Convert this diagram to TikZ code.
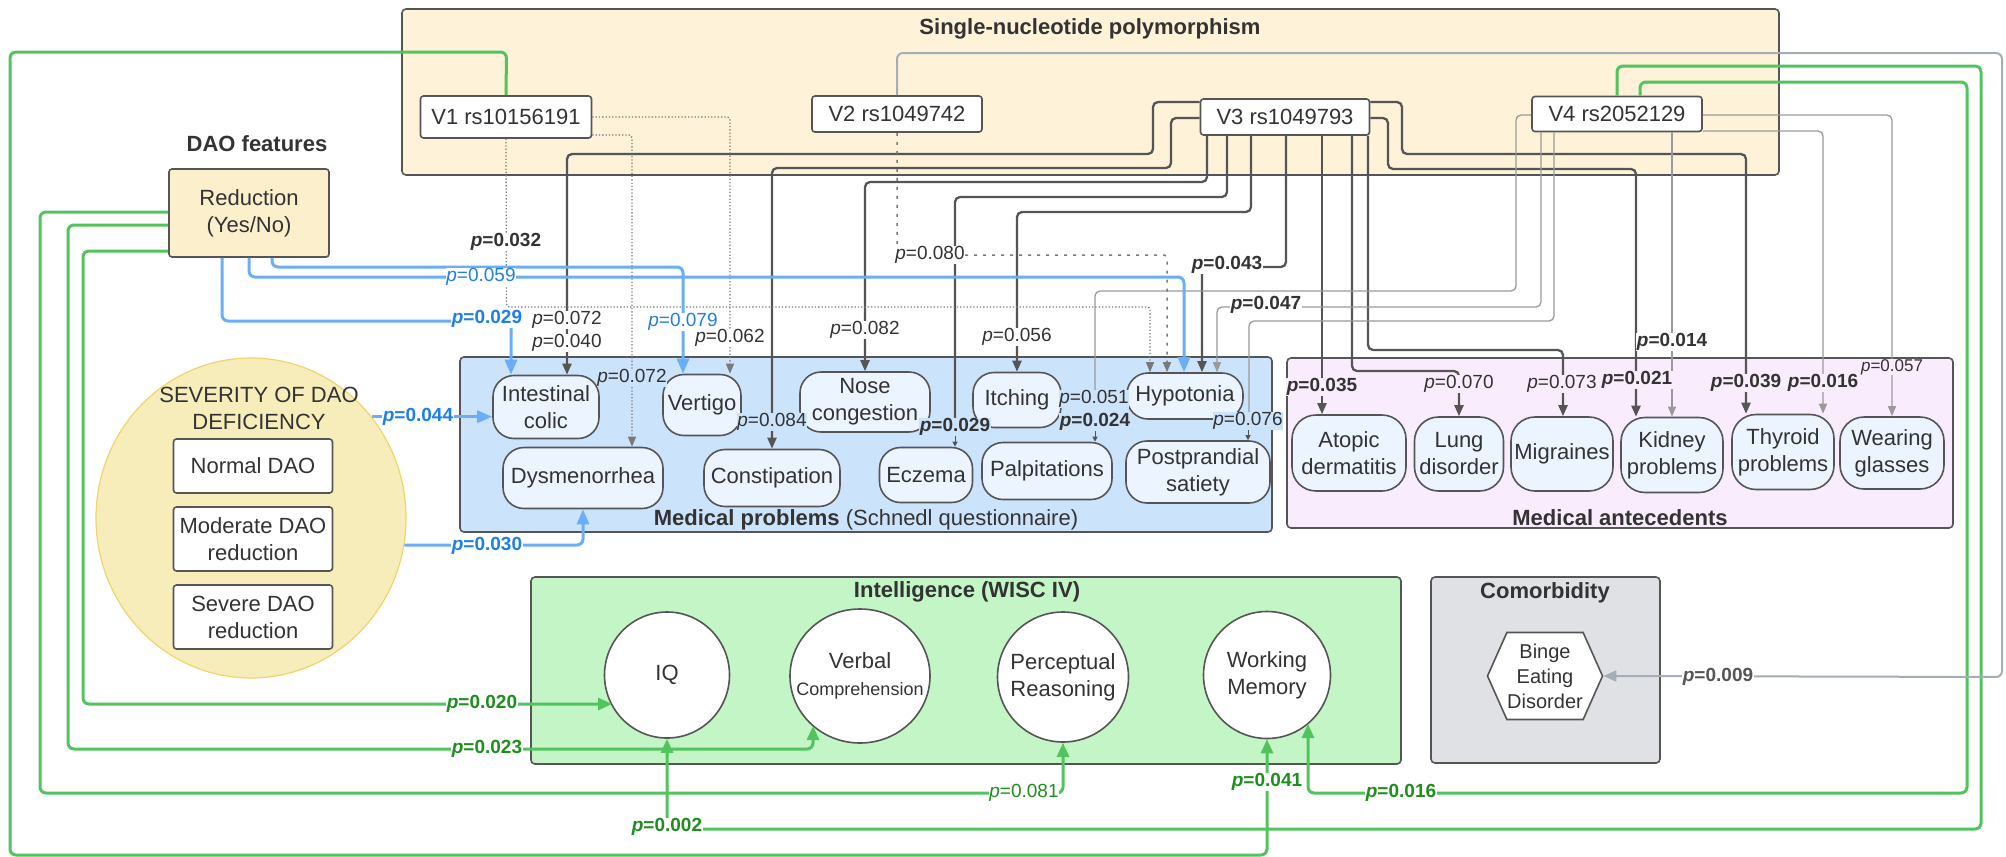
\documentclass[tikz,border=0pt]{standalone}
\usepackage{fontspec}
\setmainfont{Liberation Sans}
\usetikzlibrary{arrows.meta,shapes.geometric,shapes.symbols,calc}
\definecolor{dk}{HTML}{555555}
\definecolor{txt}{HTML}{333333}
\definecolor{tg}{HTML}{9A9A9A}
\definecolor{dt}{HTML}{7A7A7A}
\definecolor{bl}{HTML}{6AAEF7}
\definecolor{bltxt}{HTML}{1F7FE6}
\definecolor{gr}{HTML}{52C45E}
\definecolor{grtxt}{HTML}{1E8E1E}
\definecolor{gb}{HTML}{A5ADB8}
\definecolor{snpfill}{HTML}{FEF2D8}
\definecolor{redfill}{HTML}{FCEFCC}
\definecolor{medbox}{HTML}{CCE3FC}
\definecolor{mednode}{HTML}{EBF4FF}
\definecolor{antbox}{HTML}{F9ECFD}
\definecolor{intbox}{HTML}{C3F5C6}
\definecolor{combox}{HTML}{DFE1E5}
\definecolor{sevfill}{HTML}{F6EDBA}
\definecolor{sevdraw}{HTML}{F0D46C}
\newcommand\pv[1]{\textit{p}=#1}
\newcommand\pbv[1]{\textbf{\textit{p}=#1}}
\tikzset{
  container/.style={draw=dk, line width=1.6pt, rounded corners=4pt},
  ttl/.style={font=\fontsize{22}{26}\selectfont\bfseries, text=txt},
  snp/.style={draw=dk, line width=1.6pt, fill=white, rounded corners=3pt, font=\fontsize{22}{26}\selectfont, text=txt, inner sep=0pt},
  med/.style={draw=dk, line width=1.6pt, fill=mednode, rounded corners=21pt, font=\fontsize{22}{27}\selectfont, text=txt, align=center, inner sep=0pt},
  ant/.style={med, rounded corners=24pt},
  dbox/.style={draw=dk, line width=1.6pt, fill=white, rounded corners=3pt, font=\fontsize{22}{27}\selectfont, text=txt, align=center, inner sep=0pt, minimum width=159pt},
  wisc/.style={ellipse, draw=dk, line width=1.6pt, fill=white, inner sep=0pt},
  wtxt/.style={font=\fontsize{22}{27}\selectfont, text=txt, align=center},
  lab/.style={font=\fontsize{19}{21}\selectfont, text=txt, fill=white, inner sep=0.5pt},
  blab/.style={lab, font=\fontsize{19}{21}\selectfont\bfseries},
  dkl/.style={draw=dk, line width=2.3pt, rounded corners=5pt, -{Triangle[length=11pt,width=9pt]}},
  tgl/.style={draw=tg, line width=1.3pt, rounded corners=5pt, -{Triangle[length=10pt,width=8pt]}},
  dtl/.style={draw=dt, line width=1.3pt, dotted, rounded corners=3pt, -{Triangle[length=10pt,width=8pt]}},
  dsl/.style={draw=dt, line width=1.5pt, dash pattern=on 3pt off 6pt, rounded corners=3pt, -{Triangle[length=10pt,width=8pt]}},
  bll/.style={draw=bl, line width=3pt, rounded corners=6pt, -{Triangle[length=15pt,width=12pt]}},
  grl/.style={draw=gr, line width=3pt, rounded corners=6pt, -{Triangle[length=14pt,width=12pt]}},
  gbl/.style={draw=gb, line width=2pt, rounded corners=6pt, -{Triangle[length=13pt,width=11pt]}},
  smallarr/.style={draw=dk, line width=1pt, -{Triangle[length=5pt,width=5pt]}},
}
\begin{document}
\begin{tikzpicture}[x=1pt,y=-1pt]
\useasboundingbox (0,0) rectangle (2006,857);
\fill[white] (0,0) rectangle (2006,857);
% containers
\draw[container, fill=snpfill] (402,9) rectangle (1779,175);
\node[ttl] at (1090,29) {Single-nucleotide polymorphism};
\draw[container, fill=medbox] (460,357) rectangle (1272,532);
\draw[container, fill=antbox] (1287,358) rectangle (1953,528);
\draw[container, fill=intbox] (531,577) rectangle (1401,764);
\draw[container, fill=combox] (1431,577) rectangle (1660,763);
\node[ellipse, draw=sevdraw, fill=sevfill, line width=1.2pt, minimum width=310pt, minimum height=320pt, inner sep=0pt] (Sev) at (251,518) {};
% titles
\node[ttl] at (257,144) {DAO features};
\node[font=\fontsize{22}{26}\selectfont, text=txt] at (866,520) {\textbf{Medical problems} (Schnedl questionnaire)};
\node[ttl] at (1620,518) {Medical antecedents};
\node[ttl] at (967,592) {Intelligence (WISC IV)};
\node[ttl] at (1545,593) {Comorbidity};
% SNP nodes
\node[snp, minimum width=171pt, minimum height=42pt] (V1) at (506,117) {V1 rs10156191};
\node[snp, minimum width=170pt, minimum height=36pt] (V2) at (897,114) {V2 rs1049742};
\node[snp, minimum width=169pt, minimum height=36pt] (V3) at (1285,117) {V3 rs1049793};
\node[snp, minimum width=170pt, minimum height=35pt] (V4) at (1617,114) {V4 rs2052129};
% DAO
\node[dbox, fill=redfill, minimum width=160pt, minimum height=88pt] (Red) at (249,213) {Reduction\\(Yes/No)};
\node[font=\fontsize{22}{27}\selectfont, text=txt, align=center] at (259,408) {SEVERITY OF DAO\\DEFICIENCY};
\node[dbox, minimum height=54pt] (Nor) at (253,466) {Normal DAO};
\node[dbox, minimum height=64pt] (Mod) at (253,539) {Moderate DAO\\reduction};
\node[dbox, minimum height=64pt] (Sevr) at (253,617) {Severe DAO\\reduction};
% medical problems
\node[med, minimum width=106pt, minimum height=63pt] (IC) at (546,407) {Intestinal\\colic};
\node[med, minimum width=78pt, minimum height=61pt] (Vert) at (702,405) {Vertigo};
\node[med, minimum width=130pt, minimum height=60pt] (Nose) at (865,402) {Nose\\congestion};
\node[med, minimum width=88pt, minimum height=55pt] (Itch) at (1017,400) {Itching};
\node[med, minimum width=116pt, minimum height=46pt] (Hypo) at (1185,396) {Hypotonia};
\node[med, minimum width=160pt, minimum height=61pt] (Dys) at (583,478) {Dysmenorrhea};
\node[med, minimum width=136pt, minimum height=57pt] (Const) at (772,478) {Constipation};
\node[med, minimum width=93pt, minimum height=55pt] (Ecz) at (926,475) {Eczema};
\node[med, minimum width=130pt, minimum height=57pt] (Palp) at (1047,471) {Palpitations};
\node[med, minimum width=144pt, minimum height=62pt] (Post) at (1198,472) {Postprandial\\satiety};
% antecedents
\node[ant, minimum width=114pt, minimum height=76pt] (Atop) at (1349,453) {Atopic\\dermatitis};
\node[ant, minimum width=89pt, minimum height=74pt] (Lung) at (1459,454) {Lung\\disorder};
\node[ant, minimum width=102pt, minimum height=74pt] (Mig) at (1562,454) {Migraines};
\node[ant, minimum width=102pt, minimum height=75pt] (Kid) at (1672,455) {Kidney\\problems};
\node[ant, minimum width=102pt, minimum height=75pt] (Thy) at (1783,452) {Thyroid\\problems};
\node[ant, minimum width=104pt, minimum height=72pt] (Glass) at (1892,453) {Wearing\\glasses};
% WISC
\node[wisc, minimum width=125pt, minimum height=126pt, label={[wtxt]center:IQ}] (IQ) at (667,675) {};
\node[wisc, minimum width=140pt, minimum height=134pt, label={[wtxt]center:Verbal\\{\fontsize{18}{20}\selectfont Comprehension}}] (VC) at (860,676) {};
\node[wisc, minimum width=131pt, minimum height=130pt, label={[wtxt]center:Perceptual\\Reasoning}] (PR) at (1063,677) {};
\node[wisc, minimum width=127pt, minimum height=127pt, label={[wtxt]center:Working\\Memory}] (WM) at (1267,675) {};
% comorbidity
\node[signal, signal to=west and east, signal pointer angle=132, draw=dk, line width=1.6pt, fill=white, minimum width=115pt, minimum height=87pt, inner sep=0pt, font=\fontsize{20}{25}\selectfont, align=center, text=txt] (Binge) at (1545,676) {Binge\\Eating\\Disorder};

% ---- connectors: V3 (dark)
\draw[dkl] (V3.west |- 0,102) -- (1153,102) -- (1153,154) -- (567,154) -- (IC.north -| 567,0);
\draw[dkl] (V3.west |- 0,118) -- (1171,118) -- (1171,168) -- (772,168) -- (Const.north -| 772,0);
\draw[dkl] (V3.south -| 1207,0) -- (1207,182) -- (865,182) -- (Nose.north -| 865,0);
\draw[dkl, arrows=-] (V3.south -| 1227,0) -- (1227,197) -- (955,197) -- (955,427);
\draw[dkl] (V3.south -| 1251,0) -- (1251,212) -- (1017,212) -- (Itch.north);
\draw[dkl] (V3.south -| 1286,0) -- (1286,267) -- (1202,267) -- (Hypo.north -| 1202,0);
\draw[dkl] (V3.south -| 1322,0) -- (Atop.north -| 1322,0);
\draw[dkl] (V3.south -| 1352,0) -- (1352,371) -- (1459,371) -- (Lung.north);
\draw[dkl] (V3.south -| 1368,0) -- (1368,350) -- (1563,350) -- (Mig.north -| 1563,0);
\draw[dkl] (V3.east |- 0,102) -- (1402,102) -- (1402,154) -- (1746,154) -- (Thy.north -| 1746,0);
\draw[dkl] (V3.east |- 0,118) -- (1388,118) -- (1388,169) -- (1636,169) -- (Kid.north -| 1636,0);
% V4 (thin gray)
\draw[tgl, arrows=-] (V4.west |- 0,115) -- (1516,115) -- (1516,291) -- (1095,291) -- (1095,399);
\draw[tgl] (V4.south -| 1541,0) -- (1541,307) -- (1217,307) -- (Hypo.north -| 1217,0);
\draw[tgl, arrows=-] (V4.south -| 1554,0) -- (1554,321) -- (1249,321) -- (1249,421);
\draw[tgl] (V4.south -| 1672,0) -- (Kid.north -| 1672,0);
\draw[tgl] (V4.east |- 0,131) -- (1823,131) -- (Thy.north -| 1823,0);
\draw[tgl] (V4.east |- 0,115) -- (1892,115) -- (Glass.north);
% V1 dotted, V2 dashed
\draw[dtl] (V1.east |- 0,117) -- (730,117) -- (Vert.north -| 730,0);
\draw[dtl] (V1.east |- 0,135) -- (632,135) -- (Dys.north -| 632,0);
\draw[dtl] (V1.south) -- (506.5,307) -- (1150,307) -- (Hypo.north -| 1150,0);
\draw[dsl] (V2.south) -- (897,255) -- (1167,255) -- (Hypo.north -| 1167,0);
% blue
\draw[bll] (Red.south -| 222,0) -- (222,321) -- (511,321) -- (IC.north -| 511,0);
\draw[bll] (Red.south -| 249,0) -- (249,277) -- (1184,277) -- (Hypo.north -| 1184,0);
\draw[bll] (Red.south -| 272,0) -- (272,267) -- (683,267) -- (Vert.north -| 683,0);
\draw[bll] (Sev.40) -- (Sev.40 -| IC.west);
\draw[bll] (Sev.-10) -| (Dys.south);
% green
\draw[grl] (Red.west |- 0,251) -- (83,251) -- (83,704) -- ($(IQ.center)+(-55,29)$);
\draw[grl] (Red.west |- 0,225) -- (68,225) -- (68,749) -- (813,749) -- ($(VC.center)+(-47,50)$);
\draw[grl] (Red.west |- 0,212) -- (40,212) -- (40,793) -- (1063,793) -- (PR.south);
\draw[grl] (V1.north) -- (506.5,52) -- (10,52) -- (10,855) -- (1267,855) -- (WM.south);
\draw[grl] (V4.north -| 1617,0) -- (1617,66) -- (1981,66) -- (1981,829) -- (667,829) -- (IQ.south);
\draw[grl] (V4.north -| 1640,0) -- (1640,82) -- (1967,82) -- (1967,793) -- (1308,793) -- ($(WM.center)+(41,49)$);
% gray-blue
\draw[gbl] (V2.north) -- (897,53) -- (2002,53) -- (2002,677) -- (Binge.east);

% ---- labels
\node[lab] at (567,320) {\pv{0.072}};
\node[lab] at (567,343) {\pv{0.040}};
\node[lab] at (865,330) {\pv{0.082}};
\node[lab] at (1017,337) {\pv{0.056}};
\node[lab] at (730,338) {\pv{0.062}};
\node[lab, fill=medbox] at (632,378) {\pv{0.072}};
\node[lab, fill=medbox] at (772,422) {\pv{0.084}};
\node[lab] at (930,255) {\pv{0.080}};
\node[lab, fill=medbox] at (1094,399) {\pv{0.051}};
\node[lab, fill=medbox] (Lpost) at (1248,421) {\pv{0.076}};
\node[lab, fill=antbox] at (1459,384) {\pv{0.070}};
\node[lab, fill=antbox] at (1562,384) {\pv{0.073}};
\node[lab, fill=antbox, font=\fontsize{17}{19}\selectfont] at (1892,367) {\pv{0.057}};
\node[blab] at (506,242) {\pbv{0.032}};
\node[blab] at (1227,265) {\pbv{0.043}};
\node[blab] at (1266,305) {\pbv{0.047}};
\node[blab, fill=medbox] (Lecz) at (955,427) {\pbv{0.029}};
\node[blab, fill=medbox] (Lpal) at (1095,422) {\pbv{0.024}};
\node[blab, fill=antbox] at (1322,387) {\pbv{0.035}};
\node[blab, fill=antbox] at (1637,380) {\pbv{0.021}};
\node[blab] at (1672,342) {\pbv{0.014}};
\node[blab, fill=antbox] at (1746,383) {\pbv{0.039}};
\node[blab, fill=antbox] at (1823,383) {\pbv{0.016}};
\node[blab, text=dk] at (1718,677) {\pbv{0.009}};
\node[blab, text=bltxt] at (487,319) {\pbv{0.029}};
\node[blab, text=bltxt] at (418,417) {\pbv{0.044}};
\node[blab, text=bltxt] at (487,546) {\pbv{0.030}};
\node[lab, text=bltxt] at (481,277) {\pv{0.059}};
\node[lab, text=bltxt] at (683,322) {\pv{0.079}};
\node[blab, text=grtxt] at (482,704) {\pbv{0.020}};
\node[blab, text=grtxt] at (487,749) {\pbv{0.023}};
\node[blab, text=grtxt] at (667,827) {\pbv{0.002}};
\node[blab, text=grtxt] at (1267,782) {\pbv{0.041}};
\node[blab, text=grtxt] at (1401,793) {\pbv{0.016}};
\node[lab, text=grtxt] at (1024,793) {\pv{0.081}};
% small arrows
\draw[smallarr] (Lecz.south) -- (Ecz.north -| Lecz.south);
\draw[smallarr] (Lpal.south) -- (Palp.north -| Lpal.south);
\draw[smallarr] (Lpost.south) -- (Post.north -| Lpost.south);
\end{tikzpicture}
\end{document}
